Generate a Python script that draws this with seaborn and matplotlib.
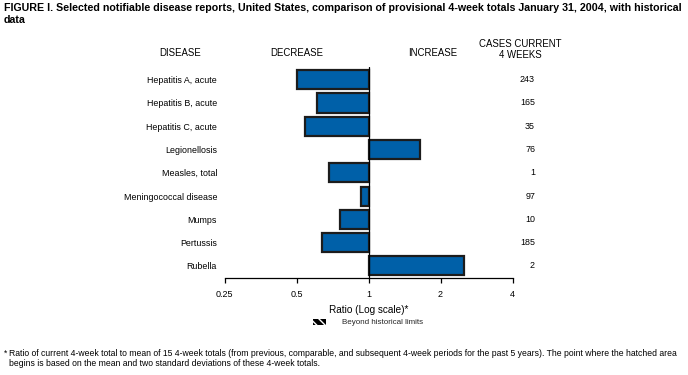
import numpy as np
import pandas as pd
import matplotlib
matplotlib.use("Agg")
import matplotlib.pyplot as plt
import matplotlib.transforms as mtransforms
from matplotlib.patches import Patch
import seaborn as sns

# ---- data ----
diseases = ["Hepatitis A, acute", "Hepatitis B, acute", "Hepatitis C, acute",
            "Legionellosis", "Measles, total", "Meningococcal disease",
            "Mumps", "Pertussis", "Rubella"]
ratios = [0.50, 0.61, 0.54, 1.64, 0.68, 0.93, 0.76, 0.64, 2.50]
cases = [243, 165, 35, 76, 1, 97, 10, 185, 2]
tick_ratios = [0.25, 0.5, 1, 2, 4]
tick_labels = ["0.25", "0.5", "1", "2", "4"]

title = ("FIGURE I. Selected notifiable disease reports, United States, comparison of "
         "provisional 4-week totals January 31, 2004, with historical\ndata")
foot1 = ("Ratio of current 4-week total to mean of 15 4-week totals (from previous, comparable, "
         "and subsequent 4-week periods for the past 5 years). The point where the hatched area")
foot2 = "begins is based on the mean and two standard deviations of these 4-week totals."

sns.set_theme(style="white")
plt.rcParams["font.family"] = ["Liberation Sans", "DejaVu Sans"]
plt.rcParams["hatch.linewidth"] = 1.0

W, H = 688, 375
fig = plt.figure(figsize=(W / 100, H / 100), dpi=100)
fig.patch.set_facecolor("white")


def fx(px):
    return px / W


def fy(py):
    return 1 - py / H


ax_l, ax_r, ax_t, ax_b = 224.7, 512.5, 67.0, 277.5
ax = fig.add_axes([fx(ax_l), fy(ax_b), (ax_r - ax_l) / W, (ax_b - ax_t) / H])

df = pd.DataFrame({"disease": diseases, "log2ratio": np.log2(ratios)})
sns.barplot(data=df, x="log2ratio", y="disease", orient="h", color="#0060A8",
            saturation=1, edgecolor="#1c1c1c", linewidth=1.6, width=0.82,
            ax=ax, zorder=2)

ax.axvline(0, color="black", lw=0.9, zorder=3)
ax.set_xlim(np.log2(tick_ratios[0]), np.log2(tick_ratios[-1]))
ax.set_ylim(len(diseases) - 0.5, -0.546)
ax.set_xticks(np.log2(tick_ratios))
ax.set_xticklabels(tick_labels)
ax.set_facecolor("none")
for s in ["left", "right", "top"]:
    ax.spines[s].set_visible(False)
ax.spines["bottom"].set_color("black")
ax.spines["bottom"].set_linewidth(0.9)
ax.tick_params(axis="x", bottom=True, length=3.5, width=0.9, color="black",
               pad=5.5, labelsize=6.5, labelcolor="black")
ax.tick_params(axis="y", left=False, length=0, pad=5.5, labelsize=6.4,
               labelcolor="black")
ax.set_ylabel("")
ax.set_xlabel("Ratio (Log scale)*", fontsize=7.2, labelpad=4.5, color="black")

trans = mtransforms.blended_transform_factory(ax.transAxes, ax.transData)
x_cases = (535 - ax_l) / (ax_r - ax_l)
for i, c in enumerate(cases):
    ax.text(x_cases, i, str(c), ha="right", va="center", fontsize=6.4,
            transform=trans, color="black")

# headers
hdr = dict(fontsize=6.9, ha="center", va="center", color="black")
fig.text(fx(180), fy(53.5), "DISEASE", **hdr)
fig.text(fx(297), fy(53.5), "DECREASE", **hdr)
fig.text(fx(432.5), fy(53.5), "INCREASE", **hdr)
fig.text(fx(520), fy(49.5), "CASES CURRENT\n4 WEEKS", linespacing=1.05, **hdr)

# title
fig.text(fx(4), fy(3), title, fontsize=7.7, fontweight="bold", ha="left",
         va="top", linespacing=1.3, color="black")

# legend
handle = Patch(facecolor="black", edgecolor="white", hatch="\\\\\\\\", lw=0)
fig.legend(handles=[handle], labels=["Beyond historical limits"],
           loc="center left", bbox_to_anchor=(fx(313), fy(322.5)),
           frameon=False, fontsize=5.8, handlelength=1.6, handleheight=0.75,
           handletextpad=2.0, borderpad=0, borderaxespad=0)

# footnote
fig.text(fx(4), fy(353), "*", fontsize=6.2, ha="left", va="center", color="black")
fig.text(fx(9), fy(354), foot1, fontsize=6.2, ha="left", va="center", color="black")
fig.text(fx(9), fy(364), foot2, fontsize=6.2, ha="left", va="center", color="black")

fig.savefig("out.png", dpi=100, facecolor="white")
